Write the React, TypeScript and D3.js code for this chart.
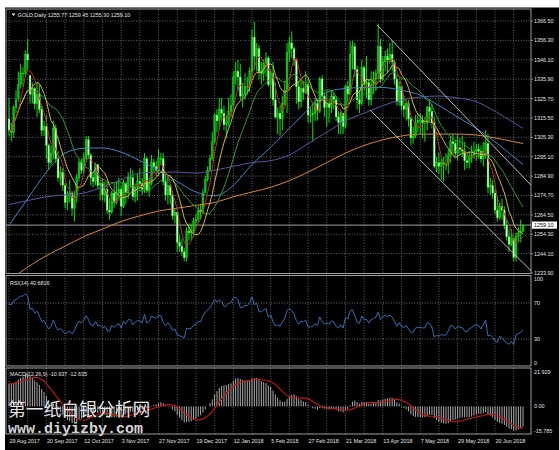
import React, { useEffect, useRef } from 'react';
import * as d3 from 'd3';

// bottom axis labels, one every 16 bars
const dateLabels = [
  '29 Aug 2017', '20 Sep 2017', '12 Oct 2017', '3 Nov 2017', '27 Nov 2017', '19 Dec 2017', '12 Jan 2018',
  '5 Feb 2018', '27 Feb 2018', '21 Mar 2018', '13 Apr 2018', '7 May 2018', '29 May 2018', '20 Jun 2018',
];

// daily GOLD bars, 29 Aug 2017 .. 6 Jul 2018 (one row per week)
const opens = [
  1315, 1309, 1308, 1321,
  1326, 1333, 1339, 1339, 1349,
  1338, 1328, 1331, 1323, 1328,
  1320, 1309, 1311, 1301, 1292,
  1297, 1310, 1294, 1284, 1287,
  1280, 1271, 1274, 1276, 1268,
  1274, 1284, 1292, 1288, 1294,
  1304, 1296, 1284, 1282, 1291,
  1280, 1281, 1275, 1278, 1267,
  1266, 1276, 1271, 1276, 1278,
  1269, 1281, 1276, 1284, 1284,
  1274, 1279, 1282, 1281, 1278,
  1294, 1277, 1281, 1292, 1290,
  1288, 1294, 1294, 1282, 1275,
  1280, 1275, 1264, 1266, 1250,
  1248, 1245, 1242, 1256, 1255,
  1256, 1261, 1262, 1267, 1266,
  1276, 1283, 1288, 1294,
  1303, 1317, 1314, 1320,
  1318, 1312, 1313, 1319, 1322,
  1337, 1340, 1337, 1327, 1328,
  1332, 1332, 1340, 1358, 1348,
  1352, 1340, 1339, 1344, 1347,
  1333, 1339, 1325, 1316, 1318,
  1315, 1323, 1330, 1350, 1355,
  1352, 1346, 1332, 1324, 1331,
  1329, 1333, 1317, 1317, 1318,
  1323, 1319, 1336, 1327, 1321,
  1323, 1321, 1327, 1325, 1316,
  1313, 1318, 1311, 1332, 1328,
  1349, 1353, 1341, 1325,
  1323, 1342, 1333, 1334, 1325,
  1333, 1336, 1339, 1353, 1336,
  1345, 1348, 1346, 1349, 1345,
  1336, 1324, 1332, 1322, 1320,
  1323, 1315, 1305, 1306, 1313,
  1314, 1314, 1313, 1313, 1321,
  1319, 1313, 1290, 1292, 1290,
  1292, 1291, 1291, 1296, 1303,
  1302, 1297, 1300, 1299, 1298,
  1293, 1292, 1295, 1296, 1298,
  1299, 1298, 1294, 1298, 1302,
  1279, 1280, 1276, 1267, 1263,
  1269, 1267, 1259, 1253, 1249,
  1252, 1242, 1253, 1255, 1255.77,
];

const highs = [
  1326, 1313, 1322, 1330,
  1340, 1344, 1342, 1351, 1357,
  1338, 1334, 1332, 1334, 1333,
  1322, 1314, 1317, 1302, 1301,
  1314, 1312, 1298, 1290, 1289,
  1281, 1277, 1283, 1277, 1277,
  1286, 1294, 1294, 1297, 1306,
  1306, 1297, 1286, 1292, 1291,
  1283, 1283, 1282, 1282, 1273,
  1277, 1281, 1282, 1284, 1280,
  1283, 1282, 1287, 1289, 1288,
  1281, 1286, 1289, 1284, 1297,
  1295, 1284, 1296, 1294, 1293,
  1299, 1297, 1297, 1286, 1285,
  1280, 1277, 1268, 1266, 1254,
  1252, 1247, 1258, 1260, 1260,
  1263, 1265, 1269, 1270, 1278,
  1285, 1290, 1296, 1308,
  1318, 1320, 1326, 1326,
  1322, 1317, 1326, 1328, 1340,
  1345, 1346, 1344, 1334, 1339,
  1337, 1342, 1362, 1366, 1355,
  1354, 1345, 1346, 1350, 1348,
  1341, 1345, 1334, 1321, 1322,
  1327, 1335, 1355, 1358, 1361,
  1353, 1346, 1335, 1336, 1335,
  1340, 1336, 1321, 1324, 1326,
  1325, 1337, 1338, 1329, 1330,
  1325, 1330, 1329, 1327, 1319,
  1319, 1318, 1333, 1335, 1356,
  1356, 1355, 1343, 1330,
  1346, 1343, 1348, 1336, 1340,
  1340, 1341, 1365, 1357, 1348,
  1351, 1352, 1355, 1356, 1346,
  1338, 1335, 1333, 1327, 1325,
  1325, 1316, 1311, 1317, 1318,
  1318, 1317, 1316, 1322, 1325,
  1323, 1316, 1295, 1297, 1294,
  1295, 1297, 1299, 1306, 1307,
  1304, 1307, 1305, 1306, 1303,
  1297, 1298, 1301, 1303, 1302,
  1302, 1301, 1303, 1309, 1307,
  1284, 1283, 1278, 1274, 1271,
  1273, 1269, 1262, 1257, 1257,
  1253, 1255, 1258, 1262, 1259.45,
];

const lows = [
  1306, 1303, 1305, 1318,
  1324, 1331, 1332, 1337, 1341,
  1323, 1323, 1320, 1316, 1318,
  1306, 1306, 1294, 1288, 1291,
  1294, 1292, 1282, 1280, 1277,
  1268, 1267, 1271, 1264, 1261,
  1271, 1282, 1286, 1286, 1292,
  1294, 1280, 1279, 1280, 1278,
  1272, 1272, 1271, 1265, 1262,
  1265, 1268, 1270, 1272, 1264,
  1268, 1270, 1273, 1279, 1272,
  1271, 1272, 1278, 1275, 1276,
  1276, 1274, 1280, 1287, 1285,
  1285, 1291, 1280, 1272, 1270,
  1270, 1262, 1260, 1245, 1245,
  1243, 1240, 1240, 1251, 1251,
  1253, 1258, 1260, 1262, 1265,
  1276, 1282, 1287, 1293,
  1302, 1308, 1309, 1314,
  1309, 1305, 1311, 1316, 1320,
  1333, 1330, 1325, 1321, 1325,
  1328, 1329, 1337, 1341, 1340,
  1336, 1333, 1335, 1337, 1332,
  1326, 1322, 1315, 1307, 1306,
  1309, 1322, 1318, 1345, 1347,
  1343, 1323, 1320, 1321, 1325,
  1328, 1313, 1313, 1303, 1314,
  1314, 1318, 1325, 1316, 1311,
  1313, 1318, 1320, 1314, 1307,
  1307, 1307, 1310, 1323, 1328,
  1341, 1337, 1320, 1318,
  1322, 1330, 1326, 1322, 1322,
  1328, 1330, 1336, 1334, 1335,
  1340, 1339, 1344, 1340, 1333,
  1322, 1322, 1319, 1316, 1314,
  1311, 1301, 1302, 1305, 1308,
  1307, 1305, 1303, 1309, 1314,
  1310, 1289, 1287, 1286, 1283,
  1282, 1288, 1286, 1292, 1296,
  1295, 1293, 1296, 1295, 1288,
  1289, 1289, 1292, 1294, 1293,
  1294, 1292, 1290, 1294, 1276,
  1275, 1273, 1265, 1261, 1262,
  1262, 1257, 1251, 1245, 1248,
  1240, 1240, 1250, 1250, 1255.3,
];

const closes = [
  1309, 1308, 1321, 1325,
  1333, 1339, 1339, 1349, 1346,
  1328, 1331, 1323, 1328, 1320,
  1309, 1311, 1301, 1292, 1297,
  1310, 1294, 1284, 1287, 1280,
  1271, 1274, 1276, 1268, 1274,
  1284, 1292, 1288, 1294, 1304,
  1296, 1284, 1282, 1291, 1280,
  1281, 1275, 1278, 1267, 1266,
  1276, 1271, 1276, 1278, 1269,
  1281, 1276, 1284, 1284, 1274,
  1279, 1282, 1281, 1278, 1294,
  1277, 1281, 1292, 1290, 1288,
  1294, 1294, 1282, 1275, 1280,
  1275, 1264, 1266, 1250, 1248,
  1245, 1242, 1256, 1255, 1256,
  1261, 1262, 1267, 1266, 1276,
  1283, 1288, 1294, 1303,
  1317, 1314, 1320, 1318,
  1312, 1313, 1319, 1322, 1337,
  1340, 1337, 1327, 1328, 1332,
  1332, 1340, 1358, 1348, 1352,
  1340, 1339, 1344, 1347, 1333,
  1339, 1325, 1316, 1318, 1315,
  1323, 1330, 1350, 1355, 1352,
  1346, 1332, 1324, 1331, 1329,
  1333, 1317, 1317, 1318, 1323,
  1319, 1336, 1327, 1321, 1323,
  1321, 1327, 1325, 1316, 1313,
  1318, 1311, 1332, 1328, 1349,
  1353, 1341, 1325, 1323,
  1342, 1333, 1334, 1325, 1333,
  1336, 1339, 1353, 1336, 1345,
  1348, 1346, 1349, 1345, 1336,
  1324, 1332, 1322, 1320, 1323,
  1315, 1305, 1306, 1313, 1314,
  1314, 1313, 1313, 1321, 1319,
  1313, 1290, 1292, 1290, 1292,
  1291, 1291, 1296, 1303, 1302,
  1297, 1300, 1299, 1298, 1293,
  1292, 1295, 1296, 1298, 1299,
  1298, 1294, 1298, 1302, 1279,
  1280, 1276, 1267, 1263, 1269,
  1267, 1259, 1253, 1249, 1252,
  1242, 1253, 1255, 1256, 1259.1,
];

// slow moving averages, at bars 0, 8, 16 ... 216, 220
const slowIdx = [0, 8, 16, 24, 32, 40, 48, 56, 64, 72, 80, 88, 96, 104, 112, 120, 128, 136, 144, 152, 160, 168, 176, 184, 192, 200, 208, 216, 220];
const ma50 = [1259, 1273, 1287, 1297, 1299.5, 1299.7, 1297.5, 1293, 1288, 1282, 1276.5, 1274.5, 1280, 1291, 1300, 1310, 1320, 1329, 1331, 1331.5, 1331.5, 1330, 1327.5, 1322, 1316, 1310, 1303, 1295, 1291];
const ma100 = [1270, 1272, 1274, 1275, 1276, 1279, 1283, 1286.5, 1287, 1287, 1286.5, 1288, 1290, 1292, 1293, 1296, 1302, 1308, 1314, 1318, 1322, 1325, 1326.5, 1327, 1326, 1324, 1319, 1313, 1310];
const ma200 = [1230, 1237, 1243, 1248, 1253, 1257, 1261, 1264, 1266.5, 1268, 1269.5, 1271, 1274, 1276.5, 1279, 1282.5, 1287, 1292, 1297, 1301, 1304, 1306, 1307, 1307, 1307, 1306.5, 1305, 1303, 1302];

const priceTicks = [1366.5, 1356.3, 1346.1, 1335.9, 1325.7, 1315.5, 1305.3, 1295.1, 1284.9, 1274.7, 1264.5, 1254.3, 1244.1, 1233.9];
const rsiTicks = [100, 70, 30, 0];
const rsiLevels = [70, 30];
const macdTicks = [21.929, 0, -15.785];

// values printed in the pane captions
const headerQuote = [1255.77, 1259.45, 1255.3, 1259.1];
const rsiCaption = 40.6816;
const macdCaption = [-10.937, -12.635];

// channel drawn on the chart: [bar, price] pairs
const trendLines = [
  [[157.5, 1364.5], [223.5, 1280]],
  [[154.5, 1319.7], [223.5, 1235]],
];

// indicator state before the first bar
const rsiSeed = { gain: 4.4, loss: 2.0 };
const macdSeed = { fast: 1297, slow: 1284 };

const FONT = 'Liberation Sans, Arial, sans-serif';

const sma = (src: number[], n: number) =>
  src.map((_, i) => d3.mean(src.slice(Math.max(0, i - n + 1), i + 1)) as number);

const App: React.FC = () => {
  const svgRef = useRef<SVGSVGElement>(null);

  useEffect(() => {
    const svg = d3.select(svgRef.current!);
    svg.selectAll('*').remove();

    const W = 559;
    const H = 450;
    const left = 6;
    const right = 531;
    const panels = {
      main: [9, 273.5],
      rsi: [275.5, 366],
      macd: [368, 434],
    };

    svg.append('rect').attr('width', W).attr('height', H).attr('fill', '#fff');
    svg.append('rect').attr('x', 5).attr('y', 7.5).attr('width', W - 5).attr('height', H - 7.5).attr('fill', '#000');

    const x = d3.scaleLinear().domain([0, 208]).range([9, 495]);
    const y = d3.scaleLinear().domain([1233.9, 1366.5]).range([273, 21]);
    const yr = d3.scaleLinear().domain([0, 100]).range([366, 276]);
    const ym = d3.scaleLinear().domain([-15.785, 21.929]).range([434, 368]);

    // clip paths for the three panes
    const defs = svg.append('defs');
    Object.entries(panels).forEach(([k, [t, b]]) => {
      defs.append('clipPath').attr('id', 'clip-' + k)
        .append('rect').attr('x', left).attr('y', t).attr('width', right - left).attr('height', b - t);
    });

    // vertical grid, every 8 bars
    const gridIdx = d3.range(0, 217, 8);
    Object.entries(panels).forEach(([, [t, b]]) => {
      svg.append('g').selectAll('line').data(gridIdx).join('line')
        .attr('x1', (d) => x(d)).attr('x2', (d) => x(d))
        .attr('y1', t).attr('y2', b)
        .attr('stroke', '#808080').attr('stroke-width', 0.8).attr('stroke-dasharray', '1,1.6');
    });

    // horizontal grid
    svg.append('g').selectAll('line').data(priceTicks.slice(0, -1)).join('line')
      .attr('x1', left).attr('x2', right).attr('y1', (d) => y(d)).attr('y2', (d) => y(d))
      .attr('stroke', '#808080').attr('stroke-width', 0.8).attr('stroke-dasharray', '1,1.6');
    svg.append('g').selectAll('line').data(rsiLevels).join('line')
      .attr('x1', left).attr('x2', right).attr('y1', (d) => yr(d)).attr('y2', (d) => yr(d))
      .attr('stroke', '#909090').attr('stroke-width', 0.8).attr('stroke-dasharray', '1,1.6');

    // ---- main pane
    const main = svg.append('g').attr('clip-path', 'url(#clip-main)');

    // bid line
    const last = closes[closes.length - 1];
    main.append('line').attr('x1', left).attr('x2', right).attr('y1', y(last)).attr('y2', y(last))
      .attr('stroke', '#b4b4c0').attr('stroke-width', 0.9);

    const bars = closes.map((c, i) => ({ i, o: opens[i], h: highs[i], l: lows[i], c }));
    main.append('g').selectAll('line').data(bars).join('line')
      .attr('x1', (d) => x(d.i)).attr('x2', (d) => x(d.i))
      .attr('y1', (d) => y(d.h)).attr('y2', (d) => y(d.l))
      .attr('stroke', '#00ff00').attr('stroke-width', 0.9);
    main.append('g').selectAll('rect').data(bars).join('rect')
      .attr('x', (d) => x(d.i) - 0.9).attr('width', 1.8)
      .attr('y', (d) => y(Math.max(d.o, d.c)))
      .attr('height', (d) => Math.max(0.6, Math.abs(y(d.o) - y(d.c))))
      .attr('fill', (d) => (d.c >= d.o ? '#18b018' : '#d6ffd6'))
      .attr('stroke', '#00ff00').attr('stroke-width', 0.35);

    const slowLine = d3.line<number>().x((_, k) => x(slowIdx[k])).y((v) => y(v)).curve(d3.curveMonotoneX);
    const fastLine = d3.line<number>().x((_, i) => x(i)).y((v) => y(v));

    const maLines: [number[], string, boolean][] = [
      [ma200, '#d8872e', true],
      [ma100, '#5a56a8', true],
      [ma50, '#3f86c6', true],
      [sma(closes, 20), '#2e9a2e', false],
      [sma(closes, 10), '#cdb845', false],
      [sma(closes, 5), '#c82828', false],
    ];
    maLines.forEach(([vals, color, slow]) => {
      main.append('path').attr('d', (slow ? slowLine : fastLine)(vals))
        .attr('fill', 'none').attr('stroke', color).attr('stroke-width', 1);
    });

    main.append('g').selectAll('line').data(trendLines).join('line')
      .attr('x1', (d) => x(d[0][0])).attr('y1', (d) => y(d[0][1]))
      .attr('x2', (d) => x(d[1][0])).attr('y2', (d) => y(d[1][1]))
      .attr('stroke', '#d0d0d0').attr('stroke-width', 0.9);

    // ---- RSI(14), Wilder smoothing
    let g = rsiSeed.gain;
    let l = rsiSeed.loss;
    const rsi = closes.map((c, i) => {
      if (i > 0) {
        const ch = c - closes[i - 1];
        g = (g * 13 + Math.max(ch, 0)) / 14;
        l = (l * 13 + Math.max(-ch, 0)) / 14;
      }
      return 100 - 100 / (1 + g / l);
    });
    svg.append('g').attr('clip-path', 'url(#clip-rsi)').append('path')
      .attr('d', d3.line<number>().x((_, i) => x(i)).y((v) => yr(v))(rsi))
      .attr('fill', 'none').attr('stroke', '#3d7bc4').attr('stroke-width', 0.9);

    // ---- MACD(12,26,9): EMA main, SMA signal
    let ef = macdSeed.fast;
    let es = macdSeed.slow;
    const macd = closes.map((c) => {
      ef += (2 / 13) * (c - ef);
      es += (2 / 27) * (c - es);
      return ef - es;
    });
    const signal = sma(macd, 9);
    const mg = svg.append('g').attr('clip-path', 'url(#clip-macd)');
    mg.append('g').selectAll('line').data(macd).join('line')
      .attr('x1', (_, i) => x(i)).attr('x2', (_, i) => x(i))
      .attr('y1', ym(0)).attr('y2', (d) => ym(d))
      .attr('stroke', '#bdbdbd').attr('stroke-width', 0.9);
    mg.append('path').attr('d', d3.line<number>().x((_, i) => x(i)).y((v) => ym(v))(signal))
      .attr('fill', 'none').attr('stroke', '#c81818').attr('stroke-width', 1.1);

    // ---- pane borders
    Object.values(panels).forEach(([t, b]) => {
      svg.append('rect').attr('x', left).attr('y', t).attr('width', right - left).attr('height', b - t)
        .attr('fill', 'none').attr('stroke', '#b0b0b0').attr('stroke-width', 0.9);
    });

    // ---- right axis labels
    const txt = (g0: d3.Selection<SVGGElement, unknown, null, undefined>) =>
      g0.attr('font-family', FONT).attr('font-size', 5.4).attr('fill', '#e6e6e6');
    const axis = svg.append('g').call(txt);
    axis.selectAll('text.p').data(priceTicks).join('text')
      .attr('x', 534).attr('y', (d) => y(d) + 2).text((d) => d.toFixed(2));
    axis.selectAll('line.p').data(priceTicks).join('line')
      .attr('x1', right).attr('x2', right + 2).attr('y1', (d) => y(d)).attr('y2', (d) => y(d))
      .attr('stroke', '#b0b0b0').attr('stroke-width', 0.8);
    axis.selectAll('text.r').data(rsiTicks).join('text')
      .attr('x', 534).attr('y', (d) => Math.min(Math.max(yr(d) + 2, 281), 365)).text((d) => String(d));
    axis.selectAll('text.m').data(macdTicks).join('text')
      .attr('x', 534).attr('y', (d) => Math.min(Math.max(ym(d) + 2, 374), 433))
      .text((d) => (d === 0 ? '0.00' : String(d)));

    // current price box
    axis.append('rect').attr('x', 532).attr('y', y(last) - 3.6).attr('width', 25).attr('height', 7.2).attr('fill', '#fff');
    axis.append('text').attr('x', 534).attr('y', y(last) + 2).attr('fill', '#000').text(last.toFixed(2));

    // bottom date labels
    axis.selectAll('text.d').data(dateLabels).join('text')
      .attr('x', (_, k) => x(k * 16) + 0.5).attr('y', 443).text((d) => d);

    // pane captions
    axis.append('path').attr('d', 'M11.5,13.5 L15.5,13.5 L13.5,16 Z').attr('fill', '#e6e6e6');
    axis.append('text').attr('x', 17.5).attr('y', 17)
      .text('GOLD,Daily  ' + headerQuote.map((v) => v.toFixed(2)).join(' '));
    axis.append('text').attr('x', 10).attr('y', 285)
      .text('RSI(14) ' + rsiCaption.toFixed(4));
    axis.append('text').attr('x', 10).attr('y', 376)
      .text('MACD(12,26,9) ' + macdCaption.map((v) => v.toFixed(3)).join(' '));

    // watermark
    svg.append('text').attr('x', 8).attr('y', 416)
      .attr('font-family', 'Noto Sans CJK SC').attr('font-size', 17.8).attr('fill', '#e4e4e4')
      .text('第一纸白银分析网');
    svg.append('text').attr('x', 8).attr('y', 433)
      .attr('font-family', 'Liberation Mono, monospace').attr('font-size', 15).attr('font-weight', 'bold')
      .attr('fill', '#d4d4d4').text('www.diyizby.com');
  }, []);

  return (
    <div style={{ position: 'absolute', left: 0, top: 0 }}>
      <svg ref={svgRef} width={559} height={450} style={{ display: 'block' }} />
    </div>
  );
};

export default App;
